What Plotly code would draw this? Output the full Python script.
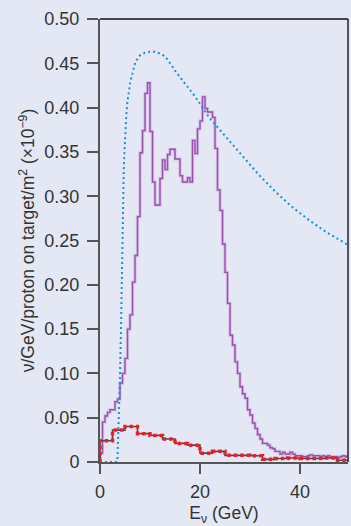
import numpy as np
import plotly.graph_objects as go

# ---------------- data ----------------
# purple histogram: 0.5 GeV bins from 0 to 50 GeV
purple_bin_width = 0.5
purple_vals = [
    0.010, 0.045, 0.052, 0.056, 0.059, 0.059, 0.068, 0.071, 0.089, 0.100,
    0.117, 0.150, 0.166, 0.203, 0.233, 0.277, 0.349, 0.374, 0.416, 0.428,
    0.373, 0.316, 0.290, 0.290, 0.320, 0.341, 0.330, 0.347, 0.353, 0.353,
    0.342, 0.342, 0.323, 0.316, 0.316, 0.321, 0.316, 0.363, 0.348, 0.376,
    0.385, 0.412, 0.399, 0.395, 0.395, 0.389, 0.354, 0.307, 0.284, 0.246,
    0.214, 0.179, 0.143, 0.132, 0.113, 0.100, 0.085, 0.077, 0.072, 0.059,
    0.053, 0.044, 0.038, 0.031, 0.026, 0.021, 0.021, 0.019, 0.016, 0.015,
    0.012, 0.012, 0.009, 0.011, 0.009, 0.009, 0.011, 0.009, 0.007, 0.007,
    0.007, 0.006, 0.006, 0.007, 0.008, 0.007, 0.007, 0.007, 0.006, 0.007,
    0.006, 0.007, 0.006, 0.005, 0.006, 0.005, 0.006, 0.007, 0.006, 0.007,
]

# red histogram: 2.5 GeV bins from 0 to 50 GeV
red_bin_width = 2.5
red_vals = [
    0.024, 0.036, 0.040, 0.032, 0.030, 0.026, 0.021, 0.019, 0.010, 0.012,
    0.0075, 0.0075, 0.007, 0.003, 0.004, 0.0045, 0.004, 0.004, 0.0045, 0.002,
]

# blue dotted flux curve
blue_E = [0, 3.4, 3.5, 3.75, 3.97, 4.2, 4.4, 4.57, 4.75, 4.9, 5.0, 5.1, 5.25,
          5.45, 5.65, 6.0, 6.45, 7.1, 8.0, 9.0, 10.0, 11.0, 12.0, 13.0, 14.4,
          15.1, 17.0, 19.1, 21.8, 25.1, 28.4, 31.8, 35.1, 38.4, 41.8, 45.1, 49.6]
blue_V = [0, 0, 0.005, 0.047, 0.090, 0.150, 0.230, 0.290, 0.330, 0.350, 0.365,
          0.378, 0.390, 0.405, 0.416, 0.427, 0.438, 0.452, 0.459, 0.462, 0.463,
          0.463, 0.461, 0.458, 0.447, 0.441, 0.427, 0.412, 0.389, 0.367, 0.346,
          0.324, 0.305, 0.288, 0.273, 0.260, 0.245]

y_tickvals = [0, 0.05, 0.10, 0.15, 0.20, 0.25, 0.30, 0.35, 0.40, 0.45, 0.50]
y_ticktext = ["0", "0.05", "0.10", "0.15", "0.20", "0.25", "0.30", "0.35",
              "0.40", "0.45", "0.50"]
x_tickvals = [0, 20, 40]
x_ticktext = ["0", "20", "40"]


def step_xy(vals, width):
    edges = np.arange(len(vals) + 1) * width
    xs = [0.0] + list(edges[:-1]) + [edges[-1]]
    ys = [0.0] + list(vals) + [vals[-1]]
    return xs, ys


FONT = "Liberation Sans, Arial, sans-serif"
BG = "#e4e8f4"
TXT = "#333333"

fig = go.Figure()

px_, py_ = step_xy(purple_vals, purple_bin_width)
fig.add_trace(go.Scatter(x=px_, y=py_, mode="lines", line_shape="hv",
                         line=dict(color="rgba(200,165,220,0.6)", width=3.2),
                         hoverinfo="skip", showlegend=False))
fig.add_trace(go.Scatter(x=px_, y=py_, mode="lines", line_shape="hv",
                         line=dict(color="#9a4fae", width=1.4),
                         showlegend=False))

fig.add_trace(go.Scatter(x=blue_E, y=blue_V, mode="lines",
                         line=dict(color="#1a8fd8", width=2, dash="2px,3px"),
                         showlegend=False))

rx, ry = step_xy(red_vals, red_bin_width)
fig.add_trace(go.Scatter(x=rx, y=ry, mode="lines", line_shape="hv",
                         line=dict(color="#4a4a4a", width=1.6),
                         showlegend=False))
fig.add_trace(go.Scatter(x=rx, y=ry, mode="lines", line_shape="hv",
                         line=dict(color="#ee1c24", width=3.5, dash="3.5px,3px"),
                         showlegend=False))

fig.update_layout(
    width=351, height=526,
    margin=dict(l=100, r=3, t=19, b=64),
    paper_bgcolor=BG, plot_bgcolor=BG,
    font=dict(family=FONT, color=TXT),
    xaxis=dict(range=[0, 49.6], showgrid=False, zeroline=False,
               showline=True, linecolor="#555555", linewidth=2,
               ticks="outside", ticklen=10, tickwidth=1.5, tickcolor="#555555",
               tickvals=x_tickvals, ticktext=x_ticktext, ticklabelstandoff=2,
               tickfont=dict(size=18, family=FONT, color=TXT),
               title=dict(text="E<sub>ν</sub> (GeV)", standoff=6,
                          font=dict(size=17.5, family=FONT, color=TXT))),
    yaxis=dict(range=[0, 0.5], showgrid=False, zeroline=False,
               showline=True, linecolor="#555555", linewidth=2,
               ticks="outside", ticklen=11, tickwidth=1.5, tickcolor="#555555",
               tickvals=y_tickvals, ticktext=y_ticktext, ticklabelstandoff=4,
               tickfont=dict(size=18, family=FONT, color=TXT),
               title=dict(text="ν/GeV/proton on target/m<sup>2</sup> (×10<sup>−9</sup>)",
                          standoff=5,
                          font=dict(size=17.5, family=FONT, color=TXT))),
    shapes=[
        dict(type="line", xref="paper", yref="paper", x0=0, x1=1, y0=1, y1=1,
             line=dict(color="#111111", width=1.5)),
        dict(type="line", xref="paper", yref="paper", x0=1, x1=1, y0=0, y1=1,
             line=dict(color="#222222", width=1.5)),
    ],
)

fig.write_html("out.html")
